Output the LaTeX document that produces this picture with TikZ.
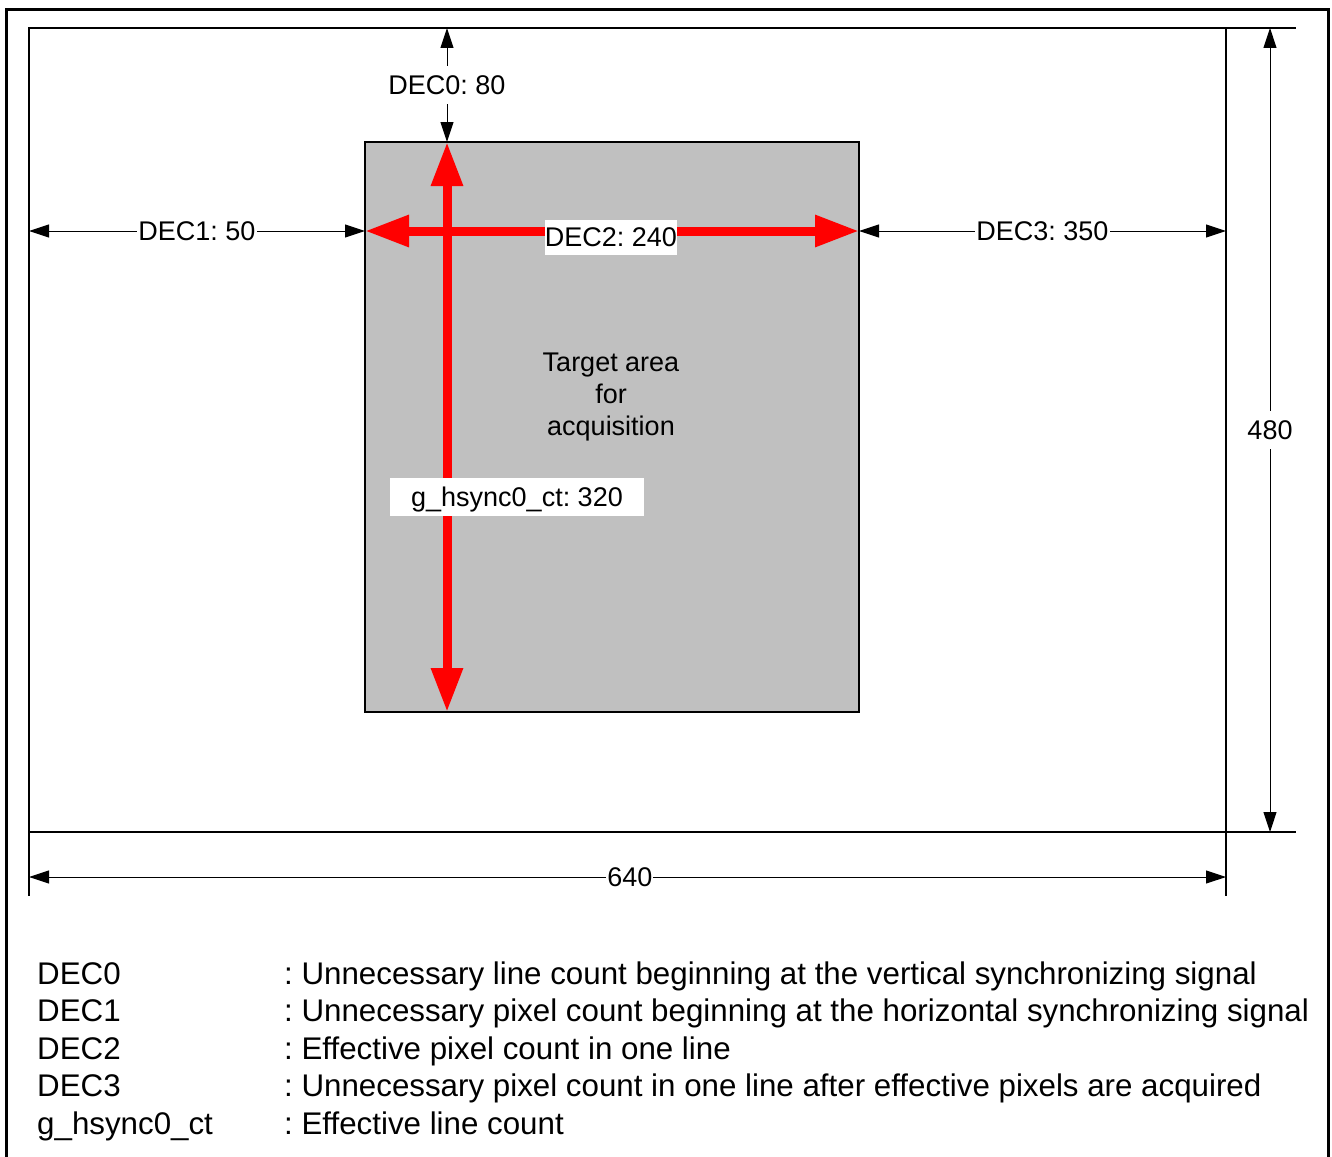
\documentclass[tikz,border=0pt]{standalone}
\usepackage{fontspec}
\setmainfont{Liberation Sans}
\usetikzlibrary{arrows.meta}
\definecolor{areagray}{HTML}{C0C0C0}
\frenchspacing
\begin{document}
\begin{tikzpicture}[x=1pt,y=-1pt,
  blacktip/.tip={Triangle[length=20pt,width=13pt]},
  redtip/.tip={Triangle[length=44pt,width=30pt]},
  dimline/.style={line width=1pt,blacktip-blacktip},
  extline/.style={line width=1.2pt},
  redarrow/.style={red,line width=9pt,redtip-redtip},
  labelfont/.style={font=\fontsize{27}{32}\selectfont},
  dimlabel/.style={labelfont,fill=white,inner xsep=1pt,inner ysep=9pt},
  boxlabel/.style={labelfont,fill=white,inner sep=0pt,text depth=0pt},
  legendtext/.style={font=\fontsize{31.3}{36}\selectfont,anchor=base west,inner sep=0pt},
]
\clip (0,0) rectangle (1332,1156);
\fill[white] (0,0) rectangle (1332,1156);

% page frame (open at the bottom)
\draw[line width=3pt] (6,1200) -- (6,10) -- (1328,10) -- (1328,1200);

% full 640 x 480 frame
\coordinate (F-nw) at (29,28);
\coordinate (F-ne) at (1226,28);
\coordinate (F-sw) at (29,832);
\coordinate (F-se) at (1226,832);
\draw[line width=2pt] (F-nw) rectangle (F-se);

% acquisition window
\coordinate (T-nw) at (365,142);
\coordinate (T-se) at (859,712);
\draw[line width=2pt,fill=areagray] (T-nw) rectangle (T-se);
\node[labelfont,align=center,inner sep=0pt] (target) at (611,397)
  {Target area\\for\\acquisition};

% effective area extents
\coordinate (R-left)   at (365,231);
\coordinate (R-right)  at (859,231);
\coordinate (R-top)    at (447,142);
\coordinate (R-bottom) at (447,712);
\draw[redarrow] (R-top) -- (R-bottom);
\draw[redarrow] (R-left) -- (R-right);
\node[boxlabel,minimum width=132pt,minimum height=35pt] (dec2) at (611,237.5) {DEC2: 240};
\node[boxlabel,minimum width=254pt,minimum height=38pt] (lines) at (517,497) {g\_hsync0\_ct: 320};

% offsets
\coordinate (D0-top) at (447,28);
\draw[dimline] (D0-top) -- (R-top) node[midway,dimlabel] (dec0) {DEC0: 80};
\coordinate (D1-left) at (29,231);
\draw[dimline] (D1-left) -- (R-left) node[midway,dimlabel] (dec1) {DEC1: 50};
\coordinate (D3-right) at (1226,231);
\draw[dimline] (R-right) -- (D3-right) node[midway,dimlabel] (dec3) {DEC3: 350};

% overall size
\coordinate (H-top) at (1296,28);
\coordinate (H-bot) at (1296,832);
\draw[extline] (F-ne) -- (H-top);
\draw[extline] (F-se) -- (H-bot);
\coordinate (V-left)  at (29,896);
\coordinate (V-right) at (1226,896);
\draw[extline] (F-sw) -- (V-left);
\draw[extline] (F-se) -- (V-right);
\coordinate (H-a) at (1270,28);
\coordinate (H-b) at (1270,832);
\draw[dimline] (H-a) -- (H-b) node[midway,dimlabel] (height) {480};
\coordinate (W-a) at (29,877);
\coordinate (W-b) at (1226,877);
\draw[dimline] (W-a) -- (W-b) node[pos=0.502,dimlabel] (width) {640};

% legend
\foreach \name/\desc [count=\i] in {
  DEC0/{: Unnecessary line count beginning at the vertical synchronizing signal},
  DEC1/{: Unnecessary pixel count beginning at the horizontal synchronizing signal},
  DEC2/{: Effective pixel count in one line},
  DEC3/{: Unnecessary pixel count in one line after effective pixels are acquired},
  g\_hsync0\_ct/{: Effective line count}} {
  \node[legendtext] (key\i) at (37,{984+(\i-1)*37.6}) {\name};
  \node[legendtext] (desc\i) at (284,{984+(\i-1)*37.6}) {\desc};
}
\end{tikzpicture}
\end{document}
